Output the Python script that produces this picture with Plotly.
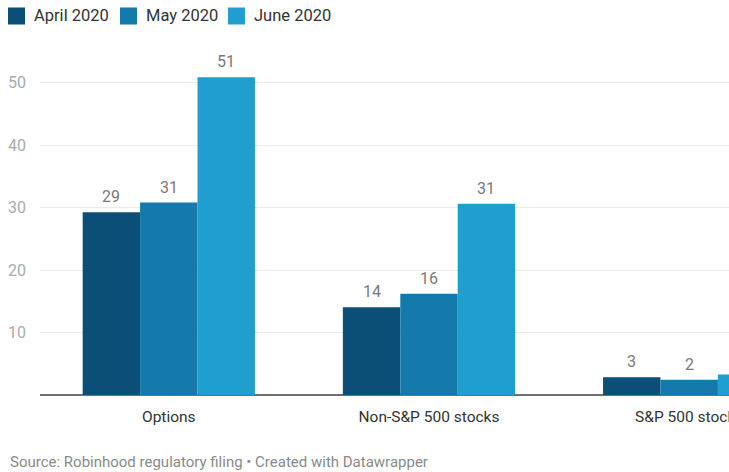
import plotly.graph_objects as go

categories = ["Options", "Non-S&P 500 stocks", "S&P 500 stocks"]
series_names = ["April 2020", "May 2020", "June 2020"]
april = [29.25, 14.05, 2.85]
may = [30.8, 16.2, 2.43]
june = [50.85, 30.6, 3.3]
colors = ["#0b4e76", "#1479ab", "#1e9fd0"]
y_ticks = [10, 20, 30, 40, 50]
source_text = "Source: Robinhood regulatory filing \u2022 Created with Datawrapper"

W, H = 729, 472
ML, MR, MT, MB = 40, 0, 45, 77
X_RANGE = [-0.495, 2.153]
BARGAP = 0.338
PW, PH = W - ML - MR, H - MT - MB


def px_x(px):
    return (px - ML) / PW


def px_y(py):
    return (H - MB - py) / PH


fig = go.Figure()
all_series = [april, may, june]
for name, vals, col in zip(series_names, all_series, colors):
    fig.add_trace(go.Bar(
        x=categories, y=vals, name=name, marker_color=col,
        marker_line_width=0, showlegend=False, cliponaxis=True,
    ))

# value labels above bars, offset to each bar of the group
px_per_cat = PW / (X_RANGE[1] - X_RANGE[0])
bar_px = px_per_cat * (1 - BARGAP) / len(all_series)
annotations = []
for i, vals in enumerate(all_series):
    shift = (i - (len(all_series) - 1) / 2) * bar_px
    for cat, v in zip(categories, vals):
        annotations.append(dict(
            x=cat, y=v, xref="x", yref="y", text=f"{v:.0f}",
            showarrow=False, xanchor="center", yanchor="bottom",
            xshift=shift, yshift=4,
            font=dict(family="Roboto", size=16, color="#7a7a7a"),
        ))
annotations.append(dict(text=source_text, xref="paper", yref="paper",
                        x=px_x(8), y=px_y(462), xanchor="left", yanchor="middle",
                        showarrow=False,
                        font=dict(family="Roboto", size=15, color="#8a8a8a")))

# legend drawn as swatches + labels along the top
legend_swatch_x = [8, 120, 228]
shapes = []
for name, col, sx in zip(series_names, colors, legend_swatch_x):
    shapes.append(dict(type="rect", xref="paper", yref="paper",
                       x0=px_x(sx), x1=px_x(sx + 17),
                       y0=px_y(24.5), y1=px_y(7.5),
                       fillcolor=col, line=dict(width=0)))
    annotations.append(dict(text=name, xref="paper", yref="paper",
                            x=px_x(sx + 24), y=px_y(16), xanchor="left",
                            yanchor="middle", showarrow=False,
                            font=dict(family="Roboto", size=16.5, color="#333333")))

fig.update_layout(
    width=W, height=H,
    margin=dict(l=ML, r=MR, t=MT, b=MB, autoexpand=False),
    paper_bgcolor="white", plot_bgcolor="white",
    barmode="group", bargap=BARGAP, bargroupgap=0,
    font=dict(family="Roboto", color="#333333"),
    showlegend=False,
    xaxis=dict(range=X_RANGE, showgrid=False, automargin=False,
               tickfont=dict(family="Roboto", size=15.5, color="#333333"),
               showline=False, zeroline=False, ticks="",
               ticklabelstandoff=10),
    yaxis=dict(range=[0, 56], tickvals=y_ticks, showgrid=True, automargin=False,
               gridcolor="#ebebeb", gridwidth=1,
               zeroline=True, zerolinecolor="#707070", zerolinewidth=1.5,
               tickfont=dict(family="Roboto", size=16, color="#aaaaaa"),
               ticklabelstandoff=13, showline=False),
    annotations=annotations,
    shapes=shapes,
)

fig.write_html("out.html", config={"displayModeBar": False},
               post_script="document.body.style.margin='0';")
